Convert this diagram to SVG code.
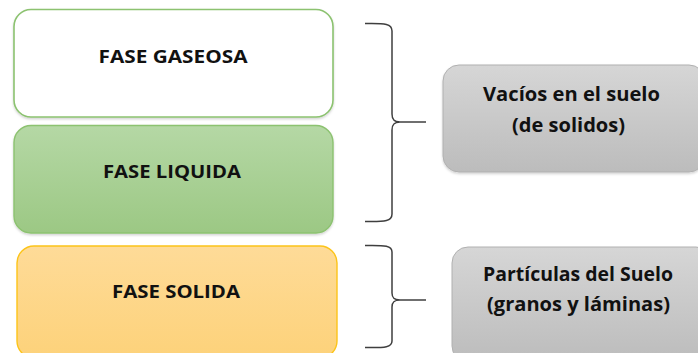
<svg xmlns="http://www.w3.org/2000/svg" width="698" height="353" viewBox="0 0 698 353">
<defs>
<linearGradient id="gGreen" x1="0" y1="0" x2="0" y2="1"><stop offset="0" stop-color="#b5d8a5"/><stop offset="1" stop-color="#9cc884"/></linearGradient>
<linearGradient id="gGold" x1="0" y1="0" x2="0" y2="1"><stop offset="0" stop-color="#fedb98"/><stop offset="1" stop-color="#fdd27a"/></linearGradient>
<linearGradient id="gGray" x1="0" y1="0" x2="0" y2="1"><stop offset="0" stop-color="#d6d6d6"/><stop offset="1" stop-color="#bcbcbc"/></linearGradient>
<filter id="sh" x="-5%" y="-5%" width="110%" height="120%"><feDropShadow dx="0" dy="1.5" stdDeviation="1.2" flood-color="#000" flood-opacity="0.18"/></filter>
</defs>
<style>
.lbl{font-family:"Open Sans","Liberation Sans",sans-serif;font-weight:bold;fill:#111;text-anchor:middle}
.f{font-size:18.5px}
.g{font-size:19.5px}
.brace{fill:none;stroke:#3f3f3f;stroke-width:1.5}
</style>
<rect width="698" height="353" fill="#fff"/>
<g id="fase-gaseosa">
<rect x="14" y="9.5" width="319" height="107.5" rx="17" fill="#fff" stroke="#8cc270" stroke-width="1.6" filter="url(#sh)"/>
<text class="lbl f" x="173" y="62.5" textLength="149" lengthAdjust="spacingAndGlyphs">FASE GASEOSA</text>
</g>
<g id="fase-liquida">
<rect x="14" y="125.5" width="319" height="107.5" rx="17" fill="url(#gGreen)" stroke="#8cc270" stroke-width="1.4" filter="url(#sh)"/>
<text class="lbl f" x="172" y="177.5" textLength="138" lengthAdjust="spacingAndGlyphs">FASE LIQUIDA</text>
</g>
<g id="fase-solida">
<rect x="17" y="246" width="320" height="112" rx="17" fill="url(#gGold)" stroke="#fcc419" stroke-width="1.4"/>
<text class="lbl f" x="176" y="297.5" textLength="128" lengthAdjust="spacingAndGlyphs">FASE SOLIDA</text>
</g>
<g id="vacios">
<rect x="443" y="65" width="262" height="107" rx="16" fill="url(#gGray)" stroke="#b0b0b0" stroke-width="1" filter="url(#sh)"/>
<text class="lbl g" x="571.5" y="101" textLength="177" lengthAdjust="spacingAndGlyphs">Vacíos en el suelo</text>
<text class="lbl g" x="568.5" y="132" textLength="113" lengthAdjust="spacingAndGlyphs">(de solidos)</text>
</g>
<g id="particulas">
<rect x="452" y="247" width="260" height="115" rx="16" fill="url(#gGray)" stroke="#b0b0b0" stroke-width="1"/>
<text class="lbl g" x="578" y="281" textLength="190" lengthAdjust="spacingAndGlyphs">Partículas del Suelo</text>
<text class="lbl g" x="578.5" y="311" textLength="183" lengthAdjust="spacingAndGlyphs">(granos y láminas)</text>
</g>
<g id="connectors">
<path class="brace" d="M365,23.5 C386,23 392,24 392,31 L392,114 C392,119.5 394,122 400,122 C394,122 392,124.5 392,130 L392,214 C392,221 386,222 365,221.5"/>
<path class="brace" d="M400,122 L426,122"/>
<path class="brace" d="M365,245.5 C386,245 392,246 392,252 L392,293 C392,298 394,300 400,300 C394,300 392,302 392,307 L392,341 C392,347 386,348 365,347.5"/>
<path class="brace" d="M400,300 L426,300"/>
</g>
</svg>
